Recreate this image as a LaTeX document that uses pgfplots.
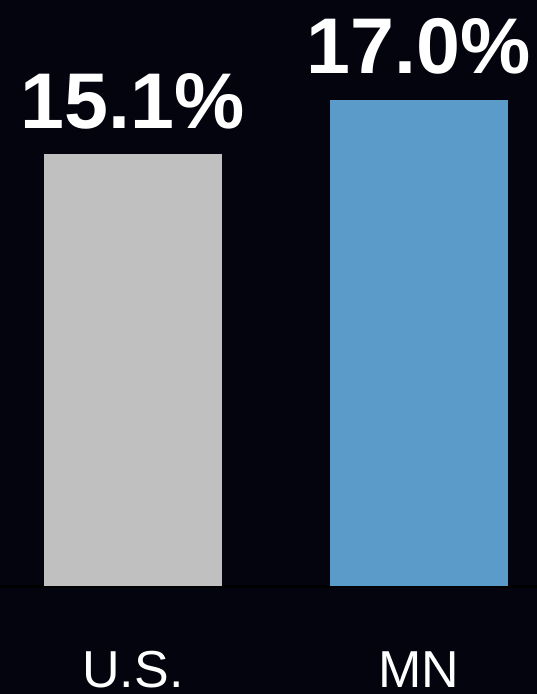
\documentclass[border=0pt]{standalone}
\usepackage{fontspec}
\setmainfont{Liberation Sans}
\usepackage{pgfplots}
\pgfplotsset{compat=1.18}
\definecolor{bg}{RGB}{3,4,14}
\definecolor{usgray}{RGB}{192,192,192}
\definecolor{mnblue}{RGB}{90,155,202}

\begin{document}
\begin{tikzpicture}
\fill[bg] (0pt,0pt) rectangle (537pt,694pt);
\useasboundingbox (0pt,0pt) rectangle (537pt,694pt);
\begin{axis}[
  at={(0pt,108pt)}, anchor=south west,
  scale only axis, width=537pt, height=586pt,
  xmin=-0.465, xmax=1.4126, ymin=0, ymax=20.49,
  ybar, bar width=178pt, bar shift=0pt,
  clip=false,
  axis y line=none,
  axis x line*=bottom,
  axis line style={draw=black, line width=3pt},
  xtick={0,1}, xticklabels={U.S., MN},
  major tick length=0pt,
  xticklabel style={anchor=base, yshift=-101pt, text=white,
                    font=\fontsize{52}{52}\selectfont},
  /pgf/number format/assume math mode=true,
  nodes near coords={\pgfmathprintnumber[fixed,fixed zerofill,precision=1,assume math mode=true]{\pgfplotspointmeta}\%},
  nodes near coords style={anchor=base, yshift=26pt, text=white,
                           font=\bfseries\fontsize{79}{79}\selectfont},
]
\addplot[fill=usgray, draw=none] coordinates {(0,15.1)};
\addplot[fill=mnblue, draw=none] coordinates {(1,17.0)};
\end{axis}
\end{tikzpicture}
\end{document}
